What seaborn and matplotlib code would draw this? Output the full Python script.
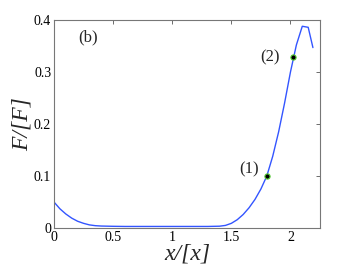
import matplotlib
matplotlib.use("Agg")
import matplotlib.pyplot as plt
import seaborn as sns
import pandas as pd

x_vals = [0.0, 0.05, 0.1, 0.15, 0.2, 0.25, 0.3, 0.35, 0.4, 0.5, 0.6, 0.7, 0.8, 0.9, 1.0,
          1.1, 1.2, 1.3, 1.4, 1.45, 1.5, 1.55, 1.6, 1.65, 1.7, 1.75, 1.8, 1.85, 1.9,
          1.95, 2.0, 2.05, 2.1, 2.15, 2.19]
f_vals = [0.05, 0.037, 0.027, 0.019, 0.013, 0.009, 0.006, 0.0045, 0.0038, 0.0033, 0.003,
          0.003, 0.003, 0.003, 0.003, 0.003, 0.003, 0.003, 0.0035, 0.005, 0.009, 0.016,
          0.026, 0.039, 0.055, 0.075, 0.1, 0.138, 0.185, 0.24, 0.3, 0.352, 0.388, 0.386, 0.347]
pt_x = [1.8, 2.02]
pt_y = [0.1, 0.328]
pt_labels = ["(1)", "(2)"]
xticks = [0, 0.5, 1, 1.5, 2]
xtick_labels = ["0", "0.5", "1", "1.5", "2"]
yticks = [0, 0.1, 0.2, 0.3, 0.4]
ytick_labels = ["0", "0.1", "0.2", "0.3", "0.4"]

sns.set_style("white")
plt.rcParams["font.family"] = ["Liberation Serif", "DejaVu Serif"]

fig = plt.figure(figsize=(3.54, 2.67), dpi=100)
ax = fig.add_axes([0.1525, 0.146, 0.904 - 0.1525, 0.925 - 0.146])

df = pd.DataFrame({"x": x_vals, "F": f_vals})
sns.lineplot(data=df, x="x", y="F", ax=ax, color="#3355ff", lw=1.0)
sns.scatterplot(x=pt_x, y=pt_y, ax=ax, color="black", edgecolor="#55cc33",
                s=14, linewidth=0.8, zorder=5)

ax.text(0.29, 0.367, "(b)", fontsize=12, ha="center", va="center")
ax.text(1.65, 0.113, pt_labels[0], fontsize=12, ha="center", va="center")
ax.text(1.83, 0.329, pt_labels[1], fontsize=12, ha="center", va="center")

ax.set_xlim(0, 2.25)
ax.set_ylim(0, 0.4)
ax.set_xticks(xticks)
ax.set_xticklabels(xtick_labels)
ax.set_yticks(yticks)
ax.set_yticklabels(ytick_labels)
ax.tick_params(direction="in", top=True, right=True, length=3, width=0.6,
               colors="#555555", labelcolor="black", labelsize=10, pad=2)
for s in ax.spines.values():
    s.set_color("#777777")
    s.set_linewidth(0.8)
ax.set_xlabel("x/[x]", fontsize=17, style="italic", labelpad=0)
ax.set_ylabel("F/[F]", fontsize=17, style="italic", labelpad=1)

fig.savefig("out.png", dpi=100)
